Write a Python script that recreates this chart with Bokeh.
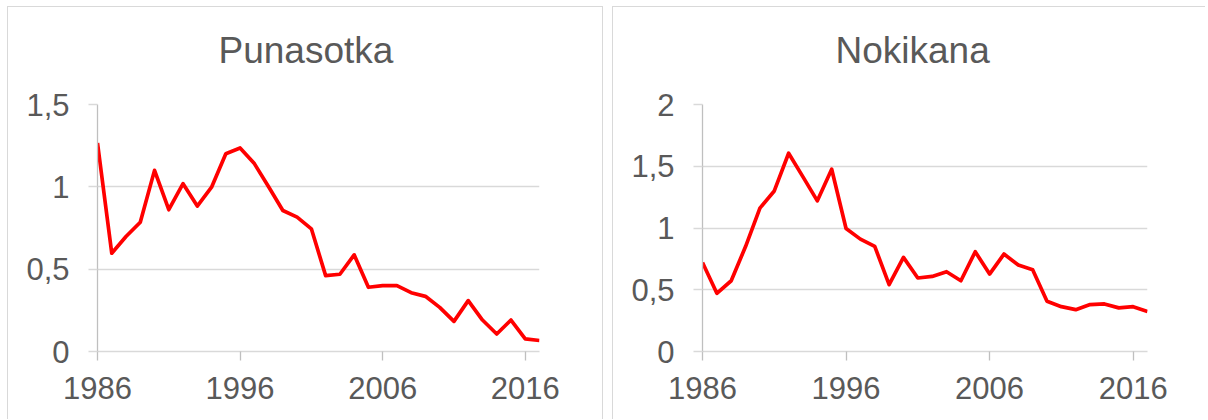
from bokeh.plotting import figure
from bokeh.layouts import row
from bokeh.models import Range1d, FixedTicker, CustomJSTickFormatter, Title
from bokeh.embed import file_html
from bokeh.resources import INLINE

years = list(range(1986, 2018))
punasotka = [1.266, 0.597, 0.698, 0.785, 1.10, 0.861, 1.019, 0.883, 0.998, 1.201,
             1.236, 1.141, 1.0, 0.856, 0.816, 0.745, 0.461, 0.469, 0.587, 0.390,
             0.400, 0.400, 0.357, 0.335, 0.268, 0.183, 0.309, 0.191, 0.106, 0.191,
             0.077, 0.067]
nokikana = [0.721, 0.471, 0.573, 0.850, 1.161, 1.300, 1.605, 1.414, 1.220, 1.476,
            0.996, 0.910, 0.851, 0.541, 0.762, 0.595, 0.608, 0.646, 0.573, 0.808,
            0.627, 0.789, 0.700, 0.662, 0.407, 0.363, 0.339, 0.380, 0.385, 0.353,
            0.363, 0.323]
x_ticks = [1986, 1996, 2006, 2016]
titles = ["Punasotka", "Nokikana"]
y_ticks = [[0, 0.5, 1, 1.5], [0, 0.5, 1, 1.5, 2]]
y_max = [1.5, 2]

FONT = "Liberation Sans"
TXT = "#595959"
GRID = "#d9d9d9"
AXIS = "#bfbfbf"
H = 413


def make_panel(title, ys, ticks, ymax, width, mbl, mbr, mbt, mbb, title_offset, styles):
    p = figure(width=width, height=H, x_range=Range1d(1986, 2017),
               y_range=Range1d(0, ymax), output_backend="svg",
               toolbar_location=None, min_border_left=mbl, min_border_right=mbr,
               min_border_top=mbt, min_border_bottom=mbb, styles=styles)
    p.outline_line_color = None
    p.background_fill_color = "white"
    p.border_fill_color = "white"
    p.xgrid.grid_line_color = None
    p.ygrid.grid_line_color = GRID
    p.ygrid.grid_line_width = 1.3
    p.ygrid.ticker = FixedTicker(ticks=ticks)

    p.yaxis.ticker = FixedTicker(ticks=ticks)
    p.yaxis.formatter = CustomJSTickFormatter(code="return tick.toString().replace('.', ',');")
    p.yaxis.axis_line_color = AXIS
    p.yaxis.axis_line_width = 1.3
    p.yaxis.major_tick_line_color = GRID
    p.yaxis.major_tick_line_width = 1.3
    p.yaxis.major_tick_out = 9
    p.yaxis.major_tick_in = 0
    p.yaxis.minor_tick_line_color = None
    p.yaxis.major_label_standoff = 19

    p.xaxis.ticker = FixedTicker(ticks=x_ticks)
    p.xaxis.axis_line_color = GRID
    p.xaxis.axis_line_width = 1.3
    p.xaxis.major_tick_line_color = AXIS
    p.xaxis.major_tick_line_width = 1.3
    p.xaxis.major_tick_out = 9
    p.xaxis.major_tick_in = 0
    p.xaxis.minor_tick_line_color = None
    p.xaxis.major_label_standoff = 16

    for ax in (p.xaxis, p.yaxis):
        ax.major_label_text_font = FONT
        ax.major_label_text_font_size = "31px"
        ax.major_label_text_color = TXT

    p.line(years, ys, line_color="#ff0000", line_width=3.7, line_join="round")

    p.title.text = ""
    # spacer between frame and chart title (closest to the frame)
    p.add_layout(Title(text=" ", text_font_size="1px", standoff=29), "above")
    p.add_layout(Title(text=title, align="left", offset=title_offset,
                       vertical_align="top", standoff=0, text_font=FONT,
                       text_font_size="37px", text_font_style="normal",
                       text_color=TXT), "above")
    return p


BORDER = "1px solid #d9d9d9"
p1 = make_panel(titles[0], punasotka, y_ticks[0], y_max[0], 596, 89, 65, 97, 69, 121,
                {"border-top": BORDER, "border-left": BORDER, "border-right": BORDER})
p2 = make_panel(titles[1], nokikana, y_ticks[1], y_max[1], 593, 89, 59, 96, 69, 133,
                {"border-top": BORDER, "border-left": BORDER, "border-right": "none"})

layout = row(p1, p2, spacing=9, margin=(6, 0, 0, 7))
open("out.html", "w").write(file_html(layout, INLINE))
